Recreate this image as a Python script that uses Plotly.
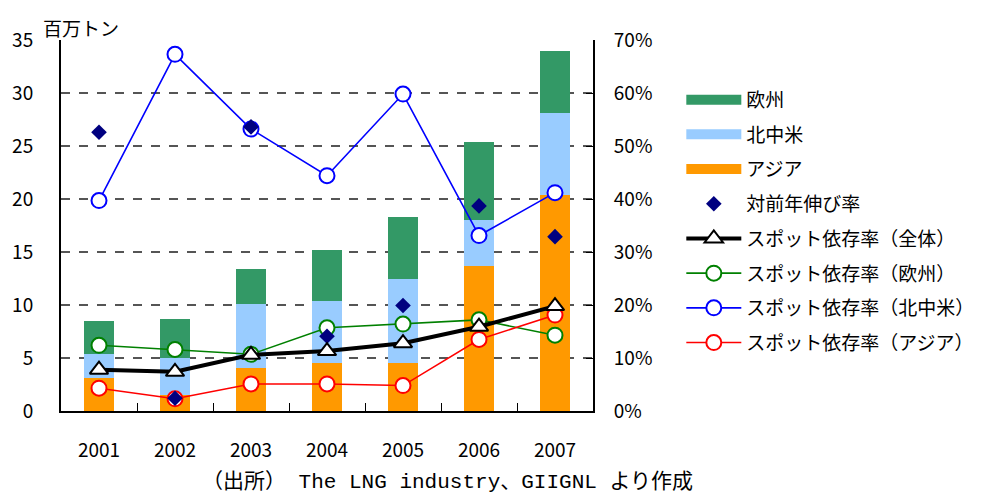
import plotly.graph_objects as go

years = ["2001", "2002", "2003", "2004", "2005", "2006", "2007"]
# 百万トン
asia = [3.1, 1.5, 4.1, 4.5, 4.5, 13.7, 20.4]
north_america = [2.3, 3.5, 6.0, 5.9, 8.0, 4.3, 7.7]
europe = [3.1, 3.7, 3.3, 4.8, 5.8, 7.4, 5.9]
# 比率
growth = [0.526, 0.024, 0.536, 0.141, 0.199, 0.387, 0.329]
spot_total = [0.078, 0.074, 0.106, 0.113, 0.128, 0.159, 0.198]
spot_europe = [0.124, 0.116, 0.107, 0.157, 0.164, 0.172, 0.143]
spot_na = [0.397, 0.673, 0.532, 0.444, 0.598, 0.331, 0.412]
spot_asia = [0.043, 0.023, 0.051, 0.051, 0.048, 0.135, 0.181]

FONT = "Noto Sans CJK JP"
FS = 19

fig = go.Figure()

# stacked bars (no legend, legend drawn by dummy wide entries)
for name, vals, col in [("アジア", asia, "#FF9900"),
                        ("北中米", north_america, "#99CCFF"),
                        ("欧州", europe, "#339966")]:
    fig.add_trace(go.Bar(x=years, y=vals, name=name, marker_color=col,
                         marker_line_width=0, width=0.4, showlegend=False,
                         yaxis="y"))

def circle_line(name, vals, col, rank):
    fig.add_trace(go.Scatter(
        x=years, y=vals, name=name, mode="lines+markers", yaxis="y2",
        line=dict(color=col, width=1.6),
        marker=dict(symbol="circle", size=15, color="white",
                    line=dict(color=col, width=2)),
        legendgroup=name, legendrank=rank))

circle_line("スポット依存率（欧州）", spot_europe, "#008000", 6)
circle_line("スポット依存率（北中米）", spot_na, "#0000FF", 7)
circle_line("スポット依存率（アジア）", spot_asia, "#FF0000", 8)

fig.add_trace(go.Scatter(
    x=years, y=growth, name="対前年伸び率", mode="markers", yaxis="y2",
    marker=dict(symbol="diamond", size=12, color="#000080"),
    legendgroup="growth", legendrank=4))

fig.add_trace(go.Scatter(
    x=years, y=spot_total, name="スポット依存率（全体）", mode="lines+markers",
    yaxis="y2", line=dict(color="black", width=4),
    marker=dict(symbol="triangle-up", size=16, color="white",
                line=dict(color="black", width=2)),
    legendgroup="total", legendrank=5))

# legend entries for bars (wide rectangles)
for name, col, rank in [("欧州", "#339966", 1), ("北中米", "#99CCFF", 2),
                        ("アジア", "#FF9900", 3)]:
    fig.add_trace(go.Scatter(x=[None], y=[None], name=name, mode="lines",
                             line=dict(color=col, width=16), yaxis="y",
                             legendgroup=name + "_bar", legendrank=rank))

fig.update_layout(
    width=992, height=494,
    margin=dict(l=58, r=390, t=40, b=83),
    paper_bgcolor="white", plot_bgcolor="white",
    font=dict(family=FONT, size=FS, color="black"),
    barmode="stack",
    showlegend=True,
    legend=dict(x=1.166, y=0.89, xanchor="left", yanchor="top",
                traceorder="grouped", tracegroupgap=7, itemwidth=55,
                borderwidth=0,
                font=dict(family=FONT, size=19), bgcolor="rgba(0,0,0,0)"),
    xaxis=dict(type="category", categoryorder="array", categoryarray=years,
               range=[-0.5, 6.5], showline=True, linecolor="black", linewidth=2,
               ticks="inside", tickson="boundaries", ticklen=8, tickcolor="black",
               tickwidth=1, showgrid=False, ticklabelstandoff=21,
               tickfont=dict(size=FS)),
    yaxis=dict(range=[0, 35], dtick=5, tick0=0, showline=True, linecolor="black",
               linewidth=2, ticks="", showgrid=True, gridcolor="#555555",
               griddash="dash", gridwidth=1.5, zeroline=False,
               ticklabelstandoff=22, tickfont=dict(size=FS)),
    yaxis2=dict(range=[0, 0.7], dtick=0.1, tick0=0, tickformat=".0%",
                overlaying="y", side="right", showline=True, linecolor="black",
                linewidth=2, ticks="inside", ticklen=7, tickcolor="black",
                showgrid=False, zeroline=False, ticklabelstandoff=15,
                tickfont=dict(size=FS)),
    annotations=[
        dict(text="百万トン", xref="paper", yref="paper", x=0.037, y=1.035,
             xanchor="center", yanchor="middle", showarrow=False,
             font=dict(size=19)),
        dict(text="（出所） The LNG industry、GIIGNL より作成", xref="paper",
             yref="paper", x=0.726, y=-0.191, xanchor="center", yanchor="middle",
             showarrow=False,
             font=dict(family="Liberation Mono, " + FONT, size=21)),
    ],
)

fig.write_html("out.html")
